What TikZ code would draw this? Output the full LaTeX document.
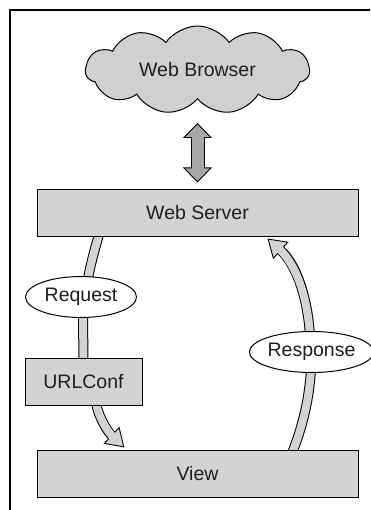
\documentclass[tikz,border=0pt]{standalone}
\usepackage{fontspec}
\setmainfont{Liberation Sans}
\usetikzlibrary{shapes.geometric,shapes.symbols,arrows.meta,calc}
\pgfdeclarelayer{bg}\pgfsetlayers{bg,main}
\definecolor{boxgray}{HTML}{D3D3D3}
\definecolor{cloudgray}{HTML}{D0D0D0}
\definecolor{arrgray}{HTML}{A6A6A6}
\definecolor{txt}{HTML}{1E1E1E}
\tikzset{
  lbl/.style={font=\fontsize{19.5}{23}\selectfont, text=txt},
  boxnode/.style={lbl, draw=black, line width=1pt, fill=boxgray, rectangle, inner sep=0pt},
  ovalnode/.style={lbl, draw=black, line width=1pt, fill=white, ellipse, inner sep=0pt},
  shaftout/.style={line width=10pt, draw=black},
  shaftin/.style={line width=8pt, draw=boxgray},
  fattip/.style={-{Triangle[length=18pt,width=23pt,line width=0.9pt,fill=boxgray]}},
  dblout/.style={line width=14pt, draw=black,
     {Triangle[length=15pt,width=29pt,line width=0.9pt,fill=arrgray]}-{Triangle[length=15pt,width=29pt,line width=0.9pt,fill=arrgray]}},
  dblin/.style={line width=12pt, draw=arrgray, shorten <=13pt, shorten >=13pt}
}
\begin{document}
\begin{tikzpicture}[x=1pt,y=-1pt]
\useasboundingbox (0,0) rectangle (370,510);
\draw[line width=1.2pt] (370,10) -- (10,10) -- (10,510);

\node[cloud, cloud puffs=11, cloud puff arc=110, aspect=2.5, draw=black, line width=1pt,
      fill=cloudgray, minimum width=224pt, minimum height=88pt, inner sep=0pt, lbl]
      (cloud) at (197.5,70) {Web Browser};
\node[boxnode, minimum width=321pt, minimum height=46pt] (ws) at (197.5,213) {Web Server};
\node[boxnode, minimum width=321pt, minimum height=47pt] (view) at (197.5,473.5) {View};
\node[boxnode, minimum width=117pt, minimum height=47pt] (url) at (83.5,381.5) {URLConf};
\node[ovalnode, minimum width=111pt, minimum height=41pt] (req) at (81,297) {Request};
\node[ovalnode, minimum width=113pt, minimum height=41pt] (resp) at (311.5,352) {Response};

\begin{pgfonlayer}{bg}
  % double arrow browser <-> server
  \draw[dblout] ($(cloud.center)+(0,53)$) -- ($(ws.north)+(0,-7)$);
  \draw[dblin] ($(cloud.center)+(0,53)$) -- ($(ws.north)+(0,-7)$);
  % request path
  \draw[shaftout] ($(ws.south west)+(63,-4)$) .. controls +(-6,22) and +(1,-22) .. ($(req.center)+(5,0)$);
  \draw[shaftin] ($(ws.south west)+(63,-4)$) .. controls +(-6,22) and +(1,-22) .. ($(req.center)+(5,0)$);
  \draw[shaftout] ($(req.center)+(2,0)$) -- (url.center);
  \draw[shaftin] ($(req.center)+(2,0)$) -- (url.center);
  \draw[shaftout, fattip] ($(url.south)+(12,-5)$) .. controls +(3,18) and +(-16,-15) .. ($(view.north west)+(88,-2)$);
  \draw[shaftin, shorten >=16pt] ($(url.south)+(12,-5)$) .. controls +(3,18) and +(-16,-15) .. ($(view.north west)+(88,-2)$);
  % response path
  \draw[shaftout] ($(view.north west)+(255,5)$) .. controls +(12,-30) and +(0,40) .. (resp.center);
  \draw[shaftin] ($(view.north west)+(255,5)$) .. controls +(12,-30) and +(0,40) .. (resp.center);
  \draw[shaftout, fattip] ($(resp.center)+(-1,0)$) .. controls +(0,-48) and +(30,27) .. ($(ws.south west)+(231,2)$);
  \draw[shaftin, shorten >=16pt] ($(resp.center)+(-1,0)$) .. controls +(0,-48) and +(30,27) .. ($(ws.south west)+(231,2)$);
\end{pgfonlayer}
\end{tikzpicture}
\end{document}
